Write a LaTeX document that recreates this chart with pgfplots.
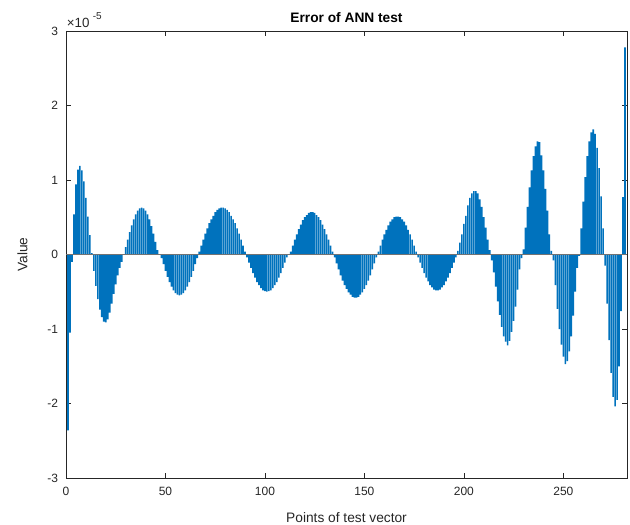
\documentclass[border=0pt]{standalone}
\usepackage{fontspec}
\setmainfont{Liberation Sans}
\usepackage{pgfplots}
\pgfplotsset{compat=1.18}
\definecolor{barblue}{RGB}{0,114,189}
\definecolor{axgray}{RGB}{38,38,38}

\begin{document}
\begin{tikzpicture}
\begin{axis}[
  scale only axis,
  width=420.75pt, height=335.25pt,
  clip mode=individual,
  xmin=0, xmax=282, ymin=-3, ymax=3,
  xtick={0,50,100,150,200,250},
  xticklabels={0,50,100,150,200,250},
  ytick={-3,-2,-1,0,1,2,3},
  yticklabels={-3,-2,-1,0,1,2,3},
  tick align=inside,
  xtick pos=both, ytick pos=both,
  major tick length=4pt,
  axis line style={axgray, line width=0.5pt},
  tick style={axgray, line width=0.5pt},
  ticklabel style={font=\fontsize{9}{10}\selectfont, text=axgray},
  xticklabel style={yshift=-3pt},
  yticklabel style={xshift=-2.5pt},
  xlabel={Points of test vector},
  ylabel={Value},
  xlabel style={yshift=-6pt},
  ylabel style={yshift=8pt},
  label style={font=\fontsize{10.3}{12}\selectfont, text=axgray},
  title={Error of ANN test},
  title style={font=\fontsize{10.3}{12}\selectfont\bfseries, yshift=-3pt},
]
\addplot[ybar, bar width=0.82, fill=barblue, draw=none] coordinates {
(1,-2.36) (2,-1.05) (3,-0.10) (4,0.54) (5,0.94) (6,1.14) (7,1.19) (8,1.13) (9,0.98) (10,0.76)
(11,0.51) (12,0.26) (13,0.02) (14,-0.22) (15,-0.42) (16,-0.60) (17,-0.74) (18,-0.84) (19,-0.90) (20,-0.91)
(21,-0.87) (22,-0.78) (23,-0.66) (24,-0.53) (25,-0.40) (26,-0.28) (27,-0.18) (28,-0.10) (29,0.00) (30,0.10)
(31,0.20) (32,0.30) (33,0.39) (34,0.47) (35,0.54) (36,0.59) (37,0.62) (38,0.63) (39,0.62) (40,0.59)
(41,0.54) (42,0.47) (43,0.38) (44,0.28) (45,0.17) (46,0.06) (47,0.00) (48,-0.05) (49,-0.13) (50,-0.22)
(51,-0.30) (52,-0.37) (53,-0.43) (54,-0.48) (55,-0.52) (56,-0.54) (57,-0.55) (58,-0.54) (59,-0.52) (60,-0.48)
(61,-0.43) (62,-0.37) (63,-0.30) (64,-0.22) (65,-0.13) (66,-0.05) (67,0.04) (68,0.12) (69,0.20) (70,0.28)
(71,0.35) (72,0.42) (73,0.47) (74,0.52) (75,0.57) (76,0.60) (77,0.62) (78,0.63) (79,0.63) (80,0.62)
(81,0.60) (82,0.57) (83,0.52) (84,0.47) (85,0.42) (86,0.35) (87,0.28) (88,0.20) (89,0.12) (90,0.04)
(91,-0.04) (92,-0.11) (93,-0.18) (94,-0.25) (95,-0.31) (96,-0.37) (97,-0.41) (98,-0.45) (99,-0.48) (100,-0.49)
(101,-0.50) (102,-0.49) (103,-0.48) (104,-0.45) (105,-0.41) (106,-0.37) (107,-0.31) (108,-0.25) (109,-0.18) (110,-0.11)
(111,-0.04) (112,0.00) (113,0.04) (114,0.12) (115,0.20) (116,0.27) (117,0.34) (118,0.40) (119,0.46) (120,0.50)
(121,0.53) (122,0.56) (123,0.57) (124,0.57) (125,0.56) (126,0.53) (127,0.50) (128,0.46) (129,0.40) (130,0.34)
(131,0.27) (132,0.20) (133,0.12) (134,0.04) (135,-0.04) (136,-0.12) (137,-0.20) (138,-0.28) (139,-0.35) (140,-0.41)
(141,-0.46) (142,-0.51) (143,-0.54) (144,-0.57) (145,-0.58) (146,-0.58) (147,-0.57) (148,-0.54) (149,-0.51) (150,-0.46)
(151,-0.41) (152,-0.35) (153,-0.28) (154,-0.20) (155,-0.12) (156,-0.04) (157,0.04) (158,0.12) (159,0.20) (160,0.27)
(161,0.33) (162,0.39) (163,0.44) (164,0.47) (165,0.50) (166,0.51) (167,0.51) (168,0.50) (169,0.47) (170,0.44)
(171,0.39) (172,0.33) (173,0.27) (174,0.20) (175,0.12) (176,0.04) (177,-0.04) (178,-0.11) (179,-0.18) (180,-0.25)
(181,-0.31) (182,-0.36) (183,-0.41) (184,-0.44) (185,-0.47) (186,-0.48) (187,-0.48) (188,-0.47) (189,-0.44) (190,-0.41)
(191,-0.36) (192,-0.31) (193,-0.25) (194,-0.18) (195,-0.11) (196,-0.04) (197,0.05) (198,0.16) (199,0.27) (200,0.41)
(201,0.52) (202,0.66) (203,0.76) (204,0.82) (205,0.85) (206,0.85) (207,0.82) (208,0.74) (209,0.64) (210,0.50)
(211,0.36) (212,0.20) (213,0.06) (214,-0.08) (215,-0.24) (216,-0.43) (217,-0.63) (218,-0.81) (219,-0.97) (220,-1.10)
(221,-1.17) (222,-1.22) (223,-1.16) (224,-1.04) (225,-0.89) (226,-0.70) (227,-0.47) (228,-0.20) (229,-0.05) (230,0.07)
(231,0.36) (232,0.64) (233,0.90) (234,1.13) (235,1.32) (236,1.45) (237,1.52) (238,1.51) (239,1.33) (240,1.13)
(241,0.88) (242,0.59) (243,0.27) (244,0.05) (245,-0.08) (246,-0.41) (247,-0.73) (248,-1.00) (249,-1.21) (250,-1.37)
(251,-1.47) (252,-1.43) (253,-1.30) (254,-1.10) (255,-0.82) (256,-0.50) (257,-0.18) (258,-0.02) (259,0.35) (260,0.71)
(261,1.04) (262,1.32) (263,1.52) (264,1.64) (265,1.68) (266,1.62) (267,1.43) (268,1.16) (269,0.78) (270,0.35)
(271,-0.15) (272,-0.66) (273,-1.15) (274,-1.59) (275,-1.91) (276,-2.04) (277,-1.95) (278,-1.50) (279,-0.76) (280,0.77)
(281,2.78)
};
% MATLAB baseline
\addplot[draw=black!55, line width=0.6pt] coordinates {(0,0) (282,0)};
\node[anchor=base west, inner sep=0pt, text=axgray, font=\fontsize{10}{11}\selectfont]
  at ([xshift=0.5pt, yshift=2.5pt]rel axis cs:0,1) {×10\hspace{2.5pt}\raisebox{6pt}{\fontsize{7.5}{8}\selectfont -5}};
\end{axis}
\pgfresetboundingbox
\useasboundingbox (-49.5pt,-34.5pt) rectangle (423pt,358.5pt);
\end{tikzpicture}
\end{document}
